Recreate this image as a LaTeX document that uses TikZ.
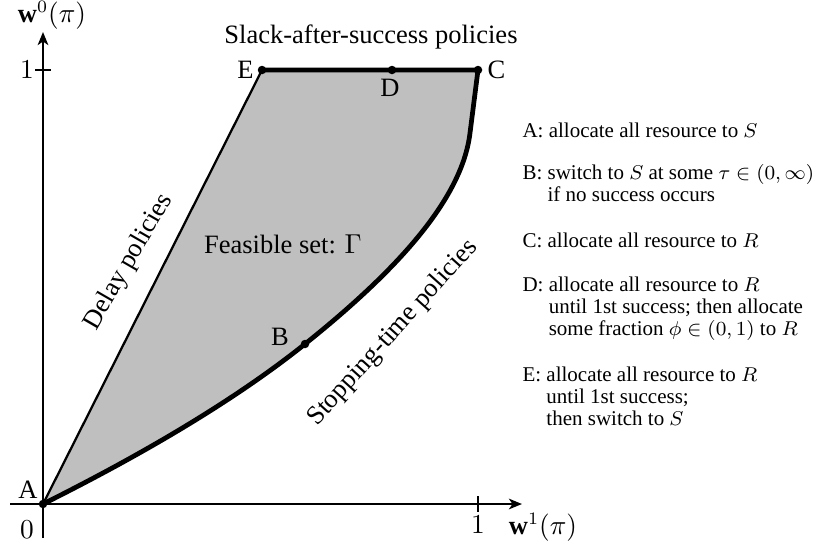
\documentclass[tikz,border=0pt]{standalone}
\usepackage{fontspec}
\setmainfont{Liberation Serif}
\usetikzlibrary{arrows.meta}
\begin{document}
\begin{tikzpicture}[x=0.4pt,y=-0.4pt,
  axis/.style={line width=1.1pt,-{Stealth[length=5.2pt,width=4.2pt,inset=1.4pt]}},
  tickmark/.style={line width=0.7pt},
  bound/.style={line width=1.9pt, line join=round},
  thinb/.style={line width=0.9pt},
  dot/.style={circle,fill=black,inner sep=0pt,minimum size=3.4pt},
  lab/.style={font=\rmfamily\fontsize{10.6}{12}\selectfont, inner sep=0pt},
  legend/.style={font=\rmfamily\fontsize{8.4}{8.8}\selectfont, inner sep=0pt, anchor=base west},
]
\useasboundingbox (0,0) rectangle (826,548);
% key points
\coordinate (A) at (43,504);
\coordinate (E) at (262,70);
\coordinate (D) at (392,70);
\coordinate (C) at (478,70);
\coordinate (K) at (470,133);
\coordinate (B) at (305,344);
\coordinate (c1) at (462,200);
\coordinate (c2) at (395,272);
\coordinate (c3) at (225,408);
\coordinate (c4) at (123,464);
% feasible set
\fill[black!25] (A) -- (E) -- (C) -- (K) .. controls (c1) and (c2) .. (B) .. controls (c3) and (c4) .. (A) -- cycle;
% axes
\coordinate (xs) at (10,504);
\coordinate (xe) at (522,504);
\coordinate (ys) at (43,538);
\coordinate (ye) at (43,32);
\draw[axis] (xs) -- (xe);
\draw[axis] (ys) -- (ye);
\coordinate (t1a) at (35,70); \coordinate (t1b) at (51,70);
\coordinate (t2a) at (478,496); \coordinate (t2b) at (478,512);
\draw[tickmark] (t1a) -- (t1b);
\draw[tickmark] (t2a) -- (t2b);
% boundary
\draw[thinb] (A) -- (E);
\draw[bound] (E) -- (C) -- (K) .. controls (c1) and (c2) .. (B) .. controls (c3) and (c4) .. (A);
% dots
\node[dot] (dA) at (A) {};
\node[dot] (dB) at (B) {};
\node[dot] (dC) at (C) {};
\node[dot] (dD) at (D) {};
\node[dot] (dE) at (E) {};
% point labels
\node[lab] (lA) at (28,490) {A};
\node[lab] (lB) at (280,337) {B};
\node[lab, anchor=west] (lC) at (487,70) {C};
\node[lab] (lD) at (390,88) {D};
\node[lab, anchor=east] (lE) at (254,70) {E};
% axis labels
\node[lab] (zero) at (27,530) {$0$};
\node[lab] (oney) at (27,70) {$1$};
\node[lab] (onex) at (478,525) {$1$};
\node[lab] (wx) at (543,527) {$\mathbf{w}^1(\pi)$};
\node[lab] (wy) at (52,15) {$\mathbf{w}^0(\pi)$};
% region labels
\node[lab, anchor=base] (slack) at (371,43) {Slack-after-success policies};
\node[lab] (feas) at (283,244) {Feasible set: $\Gamma$};
\node[lab, rotate=60] (delay) at (129,262) {Delay policies};
\node[lab, rotate=48] (stop) at (393,333) {Stopping-time policies};
% legend
\node[legend] (legA) at (522,137) {A: allocate all resource to $S$};
\node[legend] (legB) at (522,179) {\begin{tabular}[t]{@{}l@{\ }l@{}}B:& switch to $S$ at some $\tau\in(0,\infty)$\\ & if no success occurs\end{tabular}};
\node[legend] (legC) at (522,247) {C: allocate all resource to $R$};
\node[legend] (legD) at (522,291) {\begin{tabular}[t]{@{}l@{\ }l@{}}D:& allocate all resource to $R$\\ & until 1st success; then allocate\\ & some fraction $\phi\in(0,1)$ to $R$\end{tabular}};
\node[legend] (legE) at (522,381) {\begin{tabular}[t]{@{}l@{\ }l@{}}E:& allocate all resource to $R$\\ & until 1st success;\\ & then switch to $S$\end{tabular}};
\end{tikzpicture}
\end{document}
